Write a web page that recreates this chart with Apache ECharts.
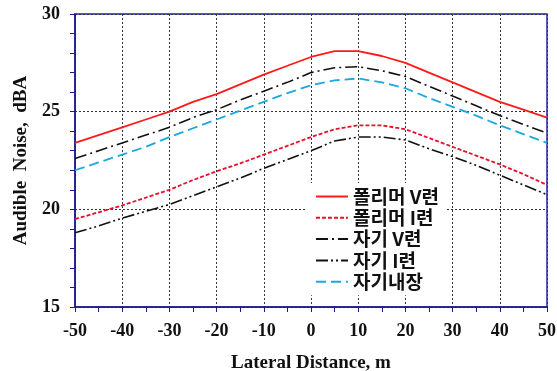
<!DOCTYPE html>
<html><head><meta charset="utf-8">
<script src="https://cdn.jsdelivr.net/npm/echarts@6/dist/echarts.min.js"></script>
<style>html,body{margin:0;padding:0;background:#fff}#c{width:557px;height:371px}</style>
</head><body><div id="c"></div>
<script>
var distances = [-50,-45,-40,-35,-30,-25,-20,-15,-10,-5,0,5,10,15,20,25,30,35,40,45,50];
var seriesNames = ['폴리머 V련','폴리머 I련','자기 V련','자기 I련','자기내장'];
var polymerV = [23.4,23.8,24.2,24.6,25.0,25.5,25.9,26.4,26.9,27.35,27.8,28.1,28.1,27.85,27.5,27.0,26.5,26.0,25.5,25.1,24.7];
var polymerI = [19.5,19.85,20.2,20.6,21.0,21.5,21.95,22.35,22.8,23.25,23.7,24.1,24.3,24.3,24.1,23.65,23.2,22.75,22.3,21.8,21.25];
var porcelainV = [22.6,23.0,23.4,23.8,24.2,24.7,25.1,25.6,26.05,26.5,27.0,27.25,27.3,27.1,26.8,26.3,25.8,25.3,24.8,24.35,23.9];
var porcelainI = [18.8,19.15,19.55,19.9,20.25,20.7,21.15,21.6,22.1,22.55,23.0,23.5,23.7,23.7,23.55,23.1,22.7,22.25,21.75,21.25,20.75];
var porcelainIn = [22.0,22.4,22.8,23.2,23.7,24.15,24.6,25.05,25.5,25.95,26.35,26.6,26.7,26.5,26.2,25.7,25.25,24.8,24.3,23.85,23.4];

function pairs(v){ return distances.map(function(x,i){ return [x, v[i]]; }); }
var styles = [
  {color:'#ff1a1a', type:'solid', width:1.8},
  {color:'#e8102a', type:[4,2], width:1.8},
  {color:'#111111', type:[12,4,2,4], width:1.6},
  {color:'#111111', type:[12,3,2,3,2,3], width:1.6},
  {color:'#1aa8e0', type:[10,5], width:1.8}
];
var values = [polymerV, polymerI, porcelainV, porcelainI, porcelainIn];
var series = values.map(function(v,i){
  return {name: seriesNames[i], type:'line', data: pairs(v), symbol:'none', smooth:false,
    lineStyle: styles[i], itemStyle:{color: styles[i].color}};
});
var serif = '"Liberation Serif","Times New Roman",serif';
var chart = echarts.init(document.getElementById('c'), null, {renderer:'canvas'});
chart.setOption({
  animation:false,
  backgroundColor:'#fff',
  grid:{left:75, right:10, top:14, bottom:64, outerBoundsMode:'none', containLabel:false, show:true, borderColor:'#2222b0', borderWidth:1.5, backgroundColor:'transparent'},
  legend:{orient:'vertical', left:307, top:183, itemWidth:32, itemHeight:14, itemGap:2.3,
    backgroundColor:'#fff', padding:[4,8,4,8],
    itemStyle:{color:'transparent', borderColor:'transparent', borderWidth:0, opacity:0},
    textStyle:{fontFamily:'"Noto Sans CJK KR","Noto Sans",sans-serif', fontSize:19, lineHeight:19, fontWeight:'bold', color:'#111'},
    data: seriesNames},
  xAxis:{type:'value', min:-50, max:50, interval:10,
    name:'Lateral Distance, m', nameLocation:'middle', nameGap:47,
    nameTextStyle:{fontFamily:serif, fontSize:19, fontWeight:'bold', color:'#111'},
    axisLine:{show:true, onZero:false, lineStyle:{color:'#1a1a90', width:1.5}},
    axisTick:{show:true, inside:false, length:5, lineStyle:{color:'#1a1a90'}},
    minorTick:{show:true, splitNumber:2, length:5, lineStyle:{color:'#1a1a90'}},
    axisLabel:{fontFamily:serif, fontSize:18, fontWeight:'bold', color:'#111', margin:15},
    splitLine:{show:true, lineStyle:{color:'#333', type:[2,2], width:1}}},
  yAxis:{type:'value', min:15, max:30, interval:5,
    name:'Audible  Noise,  dBA', nameLocation:'middle', nameGap:44,
    nameTextStyle:{fontFamily:serif, fontSize:19, fontWeight:'bold', color:'#111'},
    axisLine:{show:true, onZero:false, lineStyle:{color:'#1a1a90', width:1.5}},
    axisTick:{show:true, inside:false, length:5, lineStyle:{color:'#1a1a90'}},
    minorTick:{show:true, splitNumber:5, length:5, lineStyle:{color:'#1a1a90'}},
    axisLabel:{fontFamily:serif, fontSize:18, fontWeight:'bold', color:'#111', margin:15},
    splitLine:{show:true, lineStyle:{color:'#333', type:[2,2], width:1}}},
  series: series
});
</script></body></html>
